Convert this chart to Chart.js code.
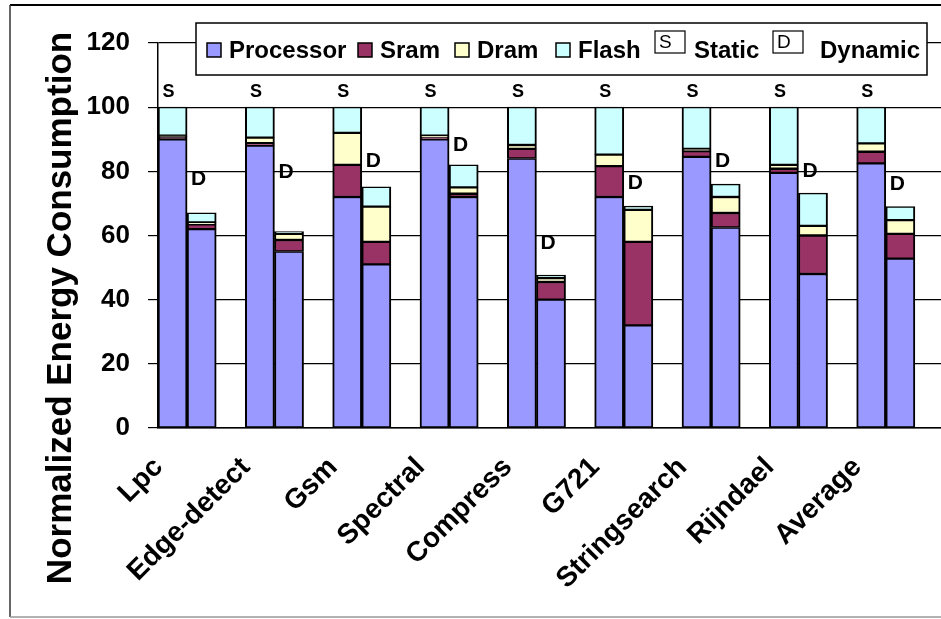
<!DOCTYPE html>
<html>
<head>
<meta charset="utf-8">
<script src="https://cdn.jsdelivr.net/npm/chart.js@4/dist/chart.umd.min.js"></script>
<style>
  html, body { margin: 0; padding: 0; background: #fff; overflow: hidden; }
  canvas { display: block; }
</style>
</head>
<body>
<canvas id="energy" width="960" height="619"></canvas>
<script>
// Benchmarks, each shown as a static (S) and a dynamic (D) stacked bar
const benchmarks = ['Lpc', 'Edge-detect', 'Gsm', 'Spectral', 'Compress', 'G721', 'Stringsearch', 'Rijndael', 'Average'];
const yTicks = [0, 20, 40, 60, 80, 100, 120];

// Static configuration, normalized energy per component
const staticProcessor = [90, 88, 72, 90, 84, 72, 84.5, 79.5, 82.5];
const staticSram      = [0.8, 0.8, 10, 0.7, 3, 9.6, 1.8, 1.3, 3.6];
const staticDram      = [0.3, 1.7, 10, 0.4, 1.2, 3.6, 0.7, 1.2, 2.6];
const staticFlash     = [8.9, 9.5, 8, 8.9, 11.8, 14.8, 13, 18, 11.3];

// Dynamic configuration, normalized energy per component
const dynamicProcessor = [62, 55, 51, 72, 40, 32, 62.5, 48, 52.8];
const dynamicSram      = [1.5, 3.6, 7, 1, 5.5, 26, 4.5, 12, 7.7];
const dynamicDram      = [0.6, 1.9, 11, 2, 1.2, 10, 5, 3, 4.3];
const dynamicFlash     = [3, 0.7, 6.2, 7, 1.0, 1.2, 4, 10.2, 4.2];

// Height (in axis units) at which each "D" marker sits
const dLabelAt = [77.6, 79.8, 83.2, 88.3, 57.7, 76.4, 83.2, 80.1, 76.1];

const FONT = "'Liberation Sans', Arial, Helvetica, sans-serif";

// Three slots per benchmark: static bar, dynamic bar, empty spacer
function slots(s, d) {
  const out = [];
  for (let i = 0; i < s.length; i++) out.push(s[i], d[i], null);
  return out;
}
const slotLabels = [];
benchmarks.forEach(b => slotLabels.push(b, '', ''));

const components = [
  { label: 'Processor', color: '#9999FF', s: staticProcessor, d: dynamicProcessor },
  { label: 'Sram',      color: '#993366', s: staticSram,      d: dynamicSram },
  { label: 'Dram',      color: '#FFFFCC', s: staticDram,      d: dynamicDram },
  { label: 'Flash',     color: '#CCFFFF', s: staticFlash,     d: dynamicFlash }
];

const datasets = components.map(c => ({
  label: c.label,
  data: slots(c.s, c.d),
  backgroundColor: c.color,
  borderColor: '#000',
  borderWidth: { top: 1.5, bottom: 1.5, left: 2, right: 2 },
  borderSkipped: false,
  categoryPercentage: 1,
  barPercentage: 1
}));

const sum = (arrs, i) => arrs.reduce((t, a) => t + a[i], 0);

// White page, outer frame
const framePlugin = {
  id: 'frame',
  beforeDraw(chart) {
    const ctx = chart.ctx;
    ctx.save();
    ctx.fillStyle = '#fff';
    ctx.fillRect(0, 0, chart.width, chart.height);
    ctx.restore();
  },
  afterDraw(chart) {
    const ctx = chart.ctx;
    ctx.save();
    ctx.strokeStyle = '#000';
    ctx.lineWidth = 2;
    ctx.beginPath(); ctx.moveTo(10, 5); ctx.lineTo(chart.width, 5); ctx.stroke();
    ctx.lineWidth = 1.5;
    ctx.strokeStyle = '#333';
    ctx.beginPath(); ctx.moveTo(10, 5); ctx.lineTo(10, 617); ctx.stroke();
    ctx.strokeStyle = '#999';
    ctx.beginPath(); ctx.moveTo(10, 617); ctx.lineTo(chart.width, 617); ctx.stroke();
    ctx.restore();
  }
};

// "S" / "D" markers above the bars
const markerPlugin = {
  id: 'markers',
  afterDatasetsDraw(chart) {
    const ctx = chart.ctx;
    const x = chart.scales.x, y = chart.scales.y;
    ctx.save();
    ctx.fillStyle = '#000';
    ctx.textAlign = 'center';
    ctx.textBaseline = 'middle';
    const sArr = [staticProcessor, staticSram, staticDram, staticFlash];
    for (let i = 0; i < benchmarks.length; i++) {
      ctx.font = 'bold 18px ' + FONT;
      const sx = x.getPixelForValue(3 * i) - 4;
      const sy = y.getPixelForValue(sum(sArr, i)) - 15;
      ctx.fillText('S', sx, sy);
      ctx.font = 'bold 21px ' + FONT;
      const dx = x.getPixelForValue(3 * i + 1) - 3;
      const dy = y.getPixelForValue(dLabelAt[i]);
      ctx.fillText('D', dx, dy);
    }
    ctx.restore();
  }
};

// Boxed legend overlapping the top of the plot, plus the y-axis title
const legendPlugin = {
  id: 'boxLegend',
  afterDraw(chart) {
    const ctx = chart.ctx;
    ctx.save();
    // legend frame
    ctx.fillStyle = '#fff';
    ctx.fillRect(196, 23, 731, 52);
    ctx.strokeStyle = '#000';
    ctx.lineWidth = 1.5;
    ctx.strokeRect(196, 23, 731, 52);

    const cy = 50;
    const swatchX = [207, 358, 455, 556];
    ctx.font = 'bold 24px ' + FONT;
    ctx.textBaseline = 'middle';
    ctx.textAlign = 'left';
    chart.data.datasets.forEach((ds, k) => {
      ctx.fillStyle = ds.backgroundColor;
      ctx.fillRect(swatchX[k], cy - 7, 14, 14);
      ctx.strokeStyle = '#000';
      ctx.lineWidth = 1.5;
      ctx.strokeRect(swatchX[k], cy - 7, 14, 14);
      ctx.fillStyle = '#000';
      ctx.fillText(ds.label, swatchX[k] + 22, cy + 1);
    });

    const boxes = [
      { mark: 'S', text: 'Static',  x: 655, tx: 694 },
      { mark: 'D', text: 'Dynamic', x: 773, tx: 820 }
    ];
    boxes.forEach(b => {
      ctx.fillStyle = '#fff';
      ctx.fillRect(b.x, 31, 30, 22);
      ctx.strokeStyle = '#000';
      ctx.lineWidth = 1.2;
      ctx.strokeRect(b.x, 31, 30, 22);
      ctx.fillStyle = '#000';
      ctx.font = '19px ' + FONT;
      ctx.textBaseline = 'top';
      ctx.fillText(b.mark, b.x + 4, 33);
      ctx.font = 'bold 24px ' + FONT;
      ctx.textBaseline = 'middle';
      ctx.fillText(b.text, b.tx, cy + 1);
    });

    // y-axis title
    ctx.translate(71, 308);
    ctx.rotate(-Math.PI / 2);
    ctx.font = 'bold 35px ' + FONT;
    ctx.textAlign = 'center';
    ctx.textBaseline = 'alphabetic';
    ctx.fillStyle = '#000';
    ctx.fillText('Normalized Energy Consumption', 0, 0);
    ctx.restore();
  }
};

new Chart(document.getElementById('energy'), {
  type: 'bar',
  data: { labels: slotLabels, datasets },
  plugins: [framePlugin, markerPlugin, legendPlugin],
  options: {
    responsive: false,
    animation: false,
    layout: { padding: { left: 10, top: 43, right: 16, bottom: 0 } },
    plugins: { legend: { display: false }, tooltip: { enabled: false } },
    scales: {
      x: {
        stacked: true,
        offset: true,
        grid: { display: false, drawTicks: false, tickLength: 0 },
        border: { display: true, color: '#000', width: 1.5 },
        ticks: {
          autoSkip: false,
          maxRotation: 45,
          minRotation: 45,
          padding: 23,
          labelOffset: -14,
          color: '#000',
          font: { family: FONT, size: 28, weight: 'bold' }
        },
        afterFit(scale) {
          scale.height = 191;
          scale.paddingLeft = 0;
          scale.paddingRight = 0;
        }
      },
      y: {
        stacked: true,
        min: 0,
        max: 120,
        afterBuildTicks(scale) { scale.ticks = yTicks.map(v => ({ value: v })); },
        grid: { color: '#000', lineWidth: 1.2, tickLength: 10, tickColor: '#000', drawTicks: true },
        border: { display: true, color: '#000', width: 1.5 },
        ticks: {
          padding: 18,
          color: '#000',
          font: { family: FONT, size: 26, weight: 'bold' }
        },
        afterFit(scale) { scale.width = 148; }
      }
    }
  }
});
</script>
</body>
</html>
